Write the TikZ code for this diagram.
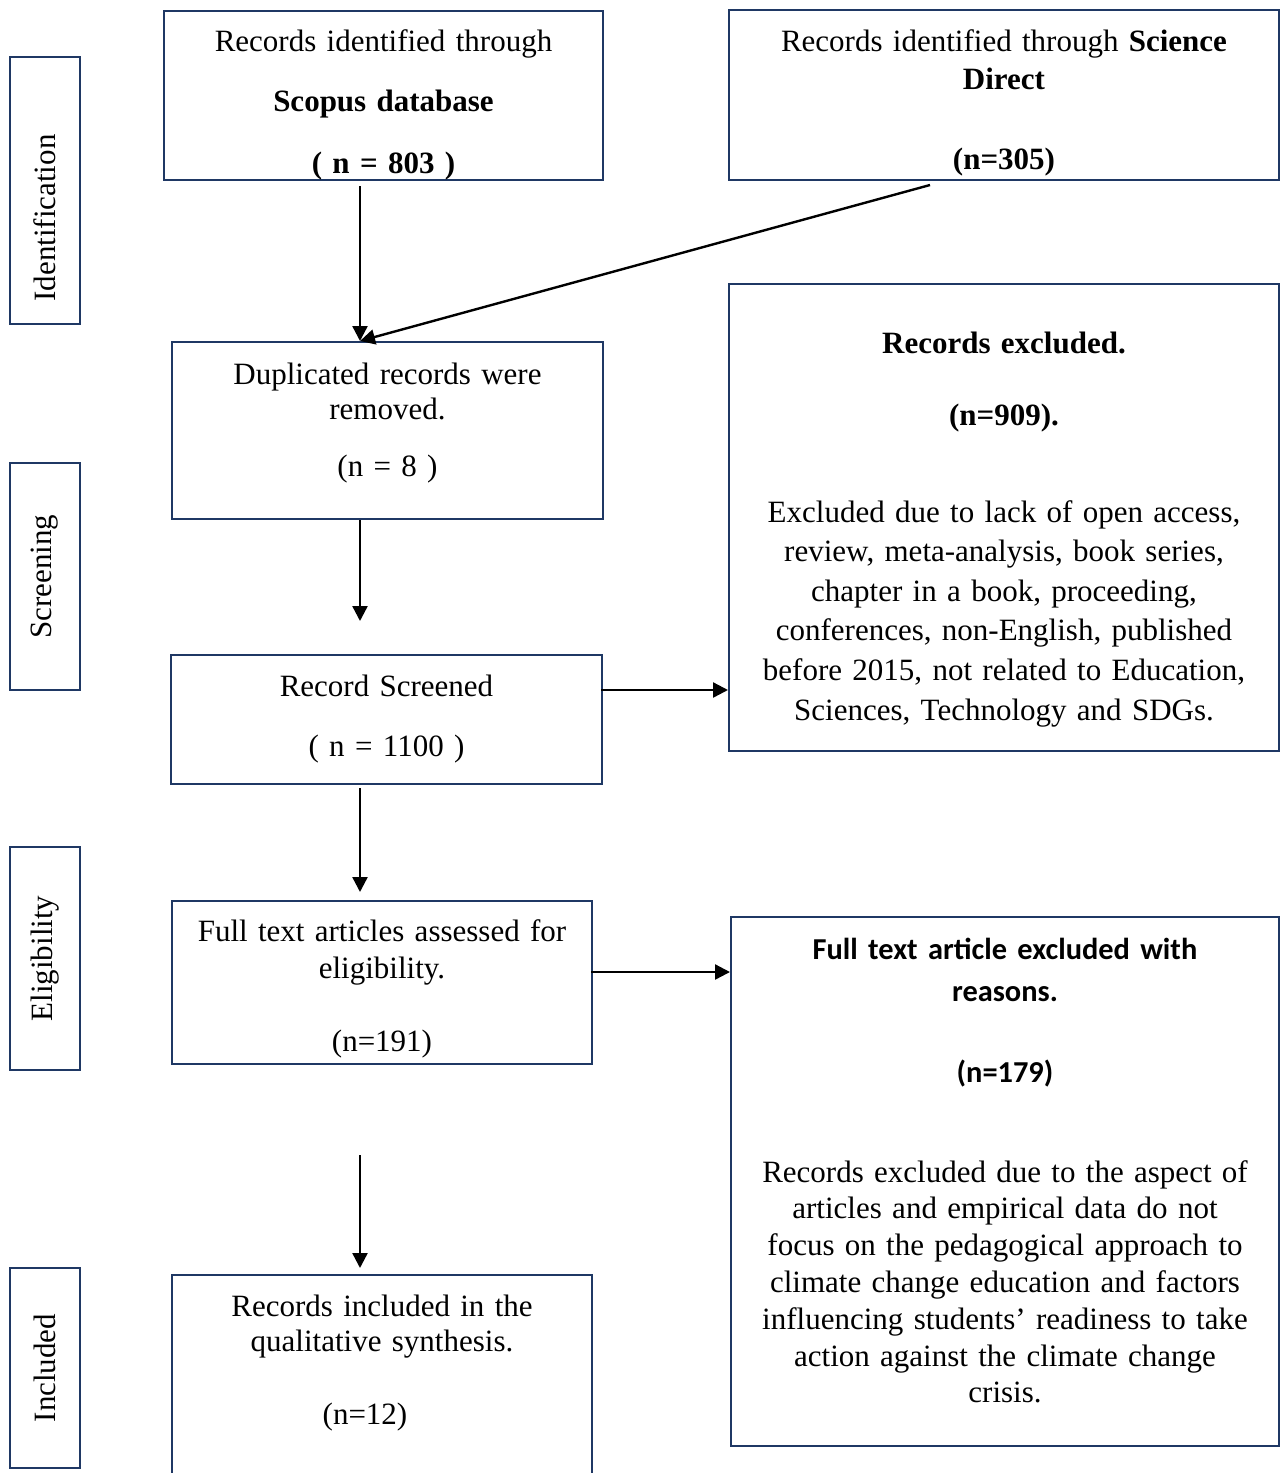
\documentclass[tikz,border=0pt]{standalone}
\usepackage{fontspec}
\setmainfont{Liberation Serif}
\newfontfamily\calibri{Carlito}
\usetikzlibrary{arrows.meta}
\definecolor{boxblue}{HTML}{1F3864}
\newcommand{\calbold}[1]{{\calibri\bfseries\fontsize{15.2}{18.4}\selectfont #1}}
\begin{document}
\begin{tikzpicture}[x=0.5pt, y=-0.5pt, >={Triangle[length=7.5pt,width=7.5pt]},
  box/.style={draw=boxblue, line width=1pt, anchor=north west, inner sep=0pt, align=center, font=\fontsize{15.5}{19.8}\selectfont},
  side/.style={draw=boxblue, line width=1pt, rotate=90, inner sep=0pt, minimum height=35pt, font=\fontsize{15.5}{19.8}\selectfont},
  arr/.style={->, line width=1.2pt}]
\useasboundingbox (0,0) rectangle (1280,1473);
% stage labels
\node[side, minimum width=133.5pt] (ident) at (45,190.5) {Identification\rule{27.5pt}{0pt}};
\node[side, minimum width=113.5pt] (screen) at (45,576.5) {Screening};
\node[side, minimum width=111.5pt] (elig) at (45,958.5) {Eligibility};
\node[side, minimum width=100pt] (inclab) at (45,1368) {Included};
% main column
\node[box, text width=219.5pt, text height=20pt, text depth=64.5pt] (scopus) at (163,10)
  {Records identified through\\[10.2pt]\textbf{Scopus database}\\[11.2pt]\textbf{( n = 803 )}};
\node[box, text width=275pt, text height=20.5pt, text depth=64.5pt] (sd) at (728,9)
  {Records identified through \textbf{Science}\\[-0.8pt]\textbf{Direct}\\[20.2pt]\textbf{(n=305)}};
\node[box, text width=215.5pt, text height=21pt, text depth=67.5pt] (dup) at (171,341)
  {Duplicated records were\\[-2.3pt]removed.\\[8.7pt](n = 8 )};
\node[box, text width=215.5pt, text height=20.5pt, text depth=44pt] (screened) at (170,654)
  {Record Screened\\[10.2pt]( n = 1100 )};
\node[box, text width=210pt, text height=20pt, text depth=61.5pt] (full) at (171,900)
  {Full text articles assessed for\\[-1.3pt]eligibility.\\[16.7pt](n=191)};
\node[box, text width=210pt, text height=20.5pt, text depth=81.5pt] (incl) at (171,1274)
  {Records included in the\\[-2.3pt]qualitative synthesis.\\[16.7pt](n=12)\rule{17pt}{0pt}};
% exclusions
\node[box, text width=275pt, text height=34.5pt, text depth=199pt] (excl1) at (728,283)
  {\textbf{Records excluded.}\\[16.2pt]\textbf{(n=909).}\\[28.7pt]Excluded due to lack of open access,\\review, meta-analysis, book series,\\chapter in a book, proceeding,\\conferences, non-English, published\\before 2015, not related to Education,\\Sciences, Technology and SDGs.};
\node[box, text width=274pt, text height=21pt, text depth=243.5pt, font=\fontsize{15.5}{18.4}\selectfont] (excl2) at (730,916)
  {\calbold{Full text article excluded with}\\[2.6pt]\calbold{reasons.}\\[22.1pt]\calbold{(n=179)}\\[31.6pt]Records excluded due to the aspect of\\articles and empirical data do not\\focus on the pedagogical approach to\\climate change education and factors\\influencing students’ readiness to take\\action against the climate change\\crisis.};
% arrows
\coordinate (scopusout) at (360,186);
\coordinate (sdout) at (930,185);
\coordinate (duptip) at (360,621);
\coordinate (screenout) at (601,690);
\coordinate (screendown) at (360,788);
\coordinate (fulltip) at (360,892);
\coordinate (fullout) at (591,972);
\coordinate (gapstart) at (360,1155);
\coordinate (incltip) at (360,1268);
\draw[arr] (scopusout) -- (scopusout |- dup.north);
\draw[arr] (sdout) -- (scopusout |- dup.north);
\draw[arr] (duptip |- dup.south) -- (duptip);
\draw[arr] (screenout) -- (screenout -| excl1.west);
\draw[arr] (screendown) -- (fulltip);
\draw[arr] (fullout) -- (fullout -| excl2.west);
\draw[arr] (gapstart) -- (incltip);
\end{tikzpicture}
\end{document}
